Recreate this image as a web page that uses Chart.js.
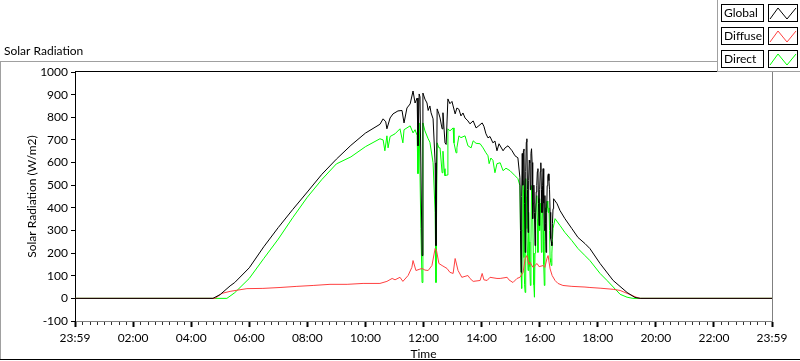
<!DOCTYPE html>
<html><head><meta charset="utf-8">
<script src="https://cdn.jsdelivr.net/npm/chart.js@4.4.1/dist/chart.umd.min.js"></script>
<style>html,body{margin:0;padding:0;background:#fff;overflow:hidden}#wrap{width:800px;height:361px}</style>
</head><body><div id="wrap"><canvas id="c" width="800" height="361"></canvas></div>
<script>
// ---- data (time in hours since 23:59, values in W/m2) ----
const tickHours  = [0, 2, 4, 6, 8, 10, 12, 14, 16, 18, 20, 22, 24];
const tickLabels = ['23:59','02:00','04:00','06:00','08:00','10:00','12:00','14:00','16:00','18:00','20:00','22:00','23:59'];
const yTicks = [-100, 0, 100, 200, 300, 400, 500, 600, 700, 800, 900, 1000];
const seriesNames = ['Global', 'Diffuse', 'Direct'];

const globalTime = [
  0, 4.75, 5.0, 5.34, 5.5, 6.0, 6.5, 7.0, 7.5, 8.0,
  8.5, 9.0, 9.5, 10.0, 10.5, 10.61, 10.7, 10.74, 10.85, 10.95,
  11.12, 11.26, 11.33, 11.43, 11.54, 11.64, 11.71, 11.78, 11.81, 11.85,
  11.88, 11.95, 11.98, 12.05, 12.12, 12.16, 12.22, 12.26, 12.33, 12.40,
  12.43, 12.47, 12.53, 12.57, 12.64, 12.67, 12.74, 12.78, 12.84, 12.91,
  12.98, 13.02, 13.09, 13.15, 13.22, 13.29, 13.36, 13.43, 13.53, 13.60,
  13.71, 13.81, 13.88, 14.02, 14.08, 14.15, 14.22, 14.29, 14.39, 14.46,
  14.53, 14.60, 14.74, 14.81, 14.91, 15.05, 15.15, 15.25,
  15.32, 15.34, 15.36, 15.38, 15.40, 15.42, 15.44, 15.46, 15.48, 15.50,
  15.52, 15.54, 15.56, 15.58, 15.60, 15.62, 15.64, 15.66, 15.68, 15.70,
  15.72, 15.74, 15.76, 15.78, 15.80, 15.82, 15.84, 15.86, 15.88, 15.90,
  15.92, 15.94, 15.96, 15.98, 16.00, 16.02, 16.04, 16.06, 16.08, 16.10,
  16.12, 16.14, 16.16, 16.18, 16.20, 16.22, 16.24, 16.26, 16.28, 16.30,
  16.32, 16.34, 16.36, 16.38, 16.40, 16.42, 16.44, 16.46, 16.48,
  16.60, 16.70, 16.87, 17.11, 17.32, 17.56, 17.73, 18.08, 18.53, 19.01,
  19.28, 19.46, 24];
const globalValues = [
  0, 0, 17, 55, 70, 135, 228, 313, 393, 470,
  548, 615, 676, 730, 769, 793, 780, 749, 797, 815,
  828, 830, 775, 841, 859, 916, 863, 885, 674, 903,
  890, 189, 907, 880, 863, 830, 850, 820, 793, 599,
  233, 837, 815, 797, 749, 820, 687, 680, 881, 860,
  870, 850, 815, 841, 835, 806, 819, 797, 784, 771,
  784, 753, 760, 775, 760, 727, 709, 715, 687, 695,
  652, 683, 652, 665, 674, 652, 630, 621,
  533, 300, 115, 450, 640, 500, 652, 660, 420, 203,
  560, 690, 705, 480, 291, 520, 610, 599, 480, 640,
  661, 600, 352, 420, 500, 380, 233, 350, 470, 498,
  560, 573, 420, 322, 480, 560, 599, 480, 379, 500,
  573, 420, 300, 454, 330, 203, 380, 498, 540, 550,
  520, 480, 380, 264, 250, 233, 330, 396, 440,
  418, 388, 352, 308, 269, 242, 220, 154, 79, 26,
  4, 0, 0];

const diffuseTime = [
  0, 4.82, 5.06, 5.34, 5.92, 6.47, 7.06, 7.64, 8.20, 8.78,
  9.37, 9.92, 10.50, 10.74, 10.92, 11.02, 11.19, 11.29, 11.47, 11.60,
  11.64, 11.74, 11.85, 11.95, 12.05, 12.16, 12.29, 12.40, 12.45, 12.53,
  12.64, 12.81, 12.91, 13.02, 13.09, 13.19, 13.32, 13.53, 13.60, 13.71,
  13.95, 14.02, 14.08, 14.19, 14.29, 14.53, 14.64, 14.88, 14.94, 15.08,
  15.22, 15.32, 15.43, 15.50, 15.56, 15.63, 15.67, 15.77, 15.91, 15.98,
  16.12, 16.18, 16.25, 16.29, 16.36, 16.43, 16.53, 16.63, 16.80, 17.11,
  17.56, 17.73, 18.08, 18.53, 18.77, 19.01, 19.35, 19.46, 24];
const diffuseValues = [
  0, 0, 22, 31, 43, 44, 48, 53, 57, 62,
  62, 66, 66, 75, 88, 82, 93, 75, 101, 137,
  167, 123, 128, 132, 125, 123, 145, 220, 210, 154,
  145, 132, 115, 110, 176, 123, 93, 101, 88, 75,
  79, 110, 82, 79, 93, 88, 88, 93, 82, 70,
  88, 93, 115, 176, 189, 150, 159, 137, 154, 140,
  145, 137, 176, 189, 130, 101, 79, 66, 57, 53,
  50, 48, 45, 40, 35, 22, 4, 0, 0];

const directTime = [
  0, 5.23, 5.5, 6.0, 6.5, 7.0, 7.5, 8.0, 8.5, 9.0,
  9.5, 10.0, 10.5, 10.61, 10.67, 10.74, 10.78, 10.85, 11.02, 11.19,
  11.29, 11.33, 11.54, 11.64, 11.71, 11.78, 11.81, 11.85, 11.91, 11.95,
  11.98, 12.05, 12.16, 12.22, 12.33, 12.40, 12.43, 12.47, 12.53, 12.57,
  12.64, 12.67, 12.71, 12.74, 12.81, 12.84, 12.91, 13.02, 13.05, 13.12,
  13.15, 13.22, 13.29, 13.43, 13.53, 13.64, 13.71, 13.81, 13.95, 14.05,
  14.15, 14.22, 14.26, 14.32, 14.39, 14.46, 14.53, 14.64, 14.74, 14.84,
  14.98, 15.15, 15.25,
  15.32, 15.34, 15.36, 15.38, 15.40, 15.42, 15.44, 15.46, 15.48, 15.50,
  15.52, 15.54, 15.56, 15.58, 15.60, 15.62, 15.64, 15.66, 15.68, 15.70,
  15.72, 15.74, 15.76, 15.78, 15.80, 15.82, 15.84, 15.86, 15.88, 15.90,
  15.92, 15.94, 15.96, 15.98, 16.00, 16.02, 16.04, 16.06, 16.08, 16.10,
  16.12, 16.14, 16.16, 16.18, 16.20, 16.22, 16.24, 16.26, 16.28, 16.30,
  16.32, 16.34, 16.36, 16.38, 16.40, 16.42, 16.44, 16.46,
  16.53, 16.70, 16.87, 17.11, 17.32, 17.56, 17.73, 18.08, 18.32, 18.77,
  19.01, 19.21, 24];
const directValues = [
  0, 0, 25, 88, 176, 262, 357, 447, 525, 594,
  625, 670, 705, 700, 652, 718, 665, 715, 727, 749,
  687, 745, 762, 731, 745, 720, 551, 775, 308, 70,
  775, 740, 705, 690, 599, 379, 70, 687, 665, 665,
  555, 650, 573, 542, 545, 749, 740, 753, 687, 643,
  665, 718, 710, 718, 674, 665, 696, 685, 683, 665,
  643, 630, 595, 620, 610, 555, 595, 599, 564, 575,
  564, 542, 529,
  498, 300, 115, 44, 300, 520, 480, 180, 60, 26,
  529, 450, 308, 200, 123, 380, 250, 140, 57, 250,
  498, 420, 380, 200, 60, 5, 200, 379, 420, 454,
  350, 203, 380, 440, 300, 420, 380, 203, 350, 420,
  300, 150, 57, 250, 400, 379, 420, 430, 400, 379,
  400, 300, 176, 160, 145, 200, 260, 308,
  352, 322, 291, 255, 220, 189, 167, 110, 79, 18,
  5, 0, 0];

// ---- build ----
const FONT = 'Lato, "Liberation Sans", sans-serif';
function pts(t, v) { return t.map((x, i) => ({ x: x, y: v[i] })); }

const decor = {
  id: 'decor',
  beforeDraw(chart) {
    const ctx = chart.ctx;
    ctx.save();
    ctx.fillStyle = '#fff';
    ctx.fillRect(0, 0, chart.width, chart.height);
    ctx.fillStyle = '#a0a0a0';
    ctx.fillRect(0, 61, 717, 1);
    ctx.fillRect(0, 61, 1, 298);
    ctx.fillStyle = '#000';
    ctx.fillRect(0, 359, 800, 1);
    ctx.fillStyle = '#000';
    ctx.font = '12px ' + FONT;
    ctx.textBaseline = 'middle';
    ctx.textAlign = 'left';
    ctx.fillText('Solar Radiation', 4, 51);
    ctx.restore();
  },
  afterDraw(chart) {
    const ctx = chart.ctx, ca = chart.chartArea, xs = chart.scales.x;
    ctx.save();
    ctx.fillStyle = '#000';
    ctx.fillRect(ca.left, ca.top - 1, ca.right - ca.left, 1);
    ctx.fillStyle = '#808080';
    ctx.fillRect(Math.round(ca.right), ca.top - 1, 1, ca.bottom - ca.top + 1);
    ctx.fillStyle = '#303030';
    for (let m = 0; m <= 24 * 4; m++) {
      if (m % 8 === 0) continue;
      const px = Math.round(xs.getPixelForValue(m / 4));
      ctx.fillRect(px, Math.round(ca.bottom) + 1, 1, 3);
    }
    ctx.fillStyle = '#fff';
    ctx.fillRect(717, 0, 83, 72);
    ctx.fillStyle = '#a0a0a0';
    ctx.fillRect(717, 0, 1, 72);
    ctx.fillRect(717, 71, 83, 1);
    ctx.font = '12px ' + FONT;
    ctx.textBaseline = 'middle';
    ctx.textAlign = 'left';
    chart.data.datasets.forEach((ds, i) => {
      const y0 = 4 + i * 23;
      ctx.strokeStyle = '#000';
      ctx.lineWidth = 1;
      ctx.strokeRect(721.5, y0 + 0.5, 42, 17);
      ctx.strokeRect(768.5, y0 + 0.5, 29, 17);
      ctx.fillStyle = '#000';
      ctx.fillText(ds.label, 724, y0 + 9.5);
      ctx.strokeStyle = ds.borderColor;
      ctx.beginPath();
      ctx.moveTo(770, y0 + 15);
      ctx.lineTo(778, y0 + 4);
      ctx.lineTo(787, y0 + 15);
      ctx.lineTo(796, y0 + 4);
      ctx.stroke();
    });
    ctx.restore();
  }
};

new Chart(document.getElementById('c'), {
  type: 'line',
  data: {
    datasets: [
      { label: seriesNames[0], data: pts(globalTime, globalValues), borderColor: '#000000' },
      { label: seriesNames[1], data: pts(diffuseTime, diffuseValues), borderColor: '#ff4040' },
      { label: seriesNames[2], data: pts(directTime, directValues), borderColor: '#00ff00' }
    ]
  },
  options: {
    responsive: false,
    animation: false,
    devicePixelRatio: 1,
    layout: { padding: { left: 0, top: 72, right: 28, bottom: 0 } },
    elements: { point: { radius: 0 }, line: { borderWidth: 1, tension: 0, fill: false } },
    plugins: { legend: { display: false }, tooltip: { enabled: false }, title: { display: false } },
    scales: {
      x: {
        type: 'linear', min: 0, max: 24,
        afterFit: s => { s.height = 40; },
        afterBuildTicks: s => { s.ticks = tickHours.map(v => ({ value: v })); },
        ticks: { autoSkip: false, maxRotation: 0, padding: 4, color: '#000',
                 font: { family: FONT, size: 12 },
                 callback: (v, i) => tickLabels[i] },
        grid: { drawOnChartArea: false, drawTicks: true, tickLength: 6, tickWidth: 2, tickColor: '#000' },
        border: { color: '#808080', width: 1 },
        title: { display: true, text: 'Time', color: '#000', font: { family: FONT, size: 12 },
                 padding: { top: 0, bottom: 0 } }
      },
      y: {
        min: -100, max: 1000,
        afterFit: s => { s.width = 75; },
        afterBuildTicks: s => { s.ticks = yTicks.map(v => ({ value: v })); },
        ticks: { padding: 3, color: '#000', font: { family: FONT, size: 12 },
                 callback: v => String(v) },
        grid: { drawOnChartArea: false, drawTicks: true, tickLength: 4, tickWidth: 1, tickColor: '#000' },
        border: { color: '#000', width: 1 },
        title: { display: true, text: 'Solar Radiation (W/m2)', color: '#000',
                 font: { family: FONT, size: 12 }, padding: { top: 25, bottom: 0 } }
      }
    }
  },
  plugins: [decor]
});
</script></body></html>
